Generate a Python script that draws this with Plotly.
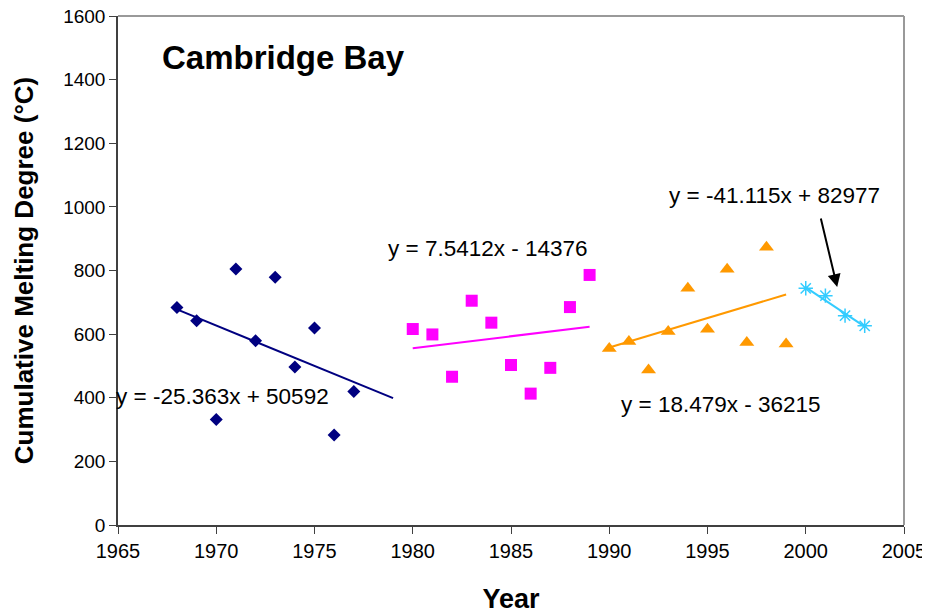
import numpy as np
import plotly.graph_objects as go

# ---- data ----
years_a = [1968, 1969, 1970, 1971, 1972, 1973, 1974, 1975, 1976, 1977]
cmd_a = [684, 642, 332, 805, 579, 779, 497, 619, 283, 420]

years_b = [1980, 1981, 1982, 1983, 1984, 1985, 1986, 1987, 1988, 1989]
cmd_b = [616, 599, 466, 705, 636, 503, 413, 494, 685, 786]

years_c = [1990, 1991, 1992, 1993, 1994, 1995, 1996, 1997, 1998, 1999]
cmd_c = [555, 577, 487, 608, 744, 615, 804, 574, 873, 569]

years_d = [2000, 2001, 2002, 2003]
cmd_d = [744, 721, 658, 626]

# trendline coefficients (as printed) and extents
trend_slopes = [-25.363, 7.5412, 18.479, -41.115]
trend_intercepts = [50592, -14376, -36215, 82977]
trend_x0 = [1968, 1980, 1990, 2000]
trend_x1 = [1979, 1989, 1999, 2003]
trend_labels = ["y = -25.363x + 50592", "y = 7.5412x - 14376",
                "y = 18.479x - 36215", "y = -41.115x + 82977"]

x_ticks = [1965, 1970, 1975, 1980, 1985, 1990, 1995, 2000, 2005]
y_ticks = [0, 200, 400, 600, 800, 1000, 1200, 1400, 1600]

colors = ["#000080", "#FF00FF", "#FF9900", "#33CCFF"]
symbols = ["diamond", "square", "triangle-up", "asterisk-open"]
sizes = [10, 12, 13, 12]

FONT = "Liberation Sans, Arial, sans-serif"

fig = go.Figure()
series = [(years_a, cmd_a), (years_b, cmd_b), (years_c, cmd_c), (years_d, cmd_d)]
for i, (xs, ys) in enumerate(series):
    fig.add_trace(go.Scatter(
        x=xs, y=ys, mode="markers",
        marker=dict(symbol=symbols[i], size=sizes[i], color=colors[i],
                    line=dict(color=colors[i], width=1.5 if i == 3 else 0)),
        showlegend=False, hoverinfo="x+y"))

for i in range(4):
    tx = np.array([trend_x0[i], trend_x1[i]], dtype=float)
    ty = trend_slopes[i] * tx + trend_intercepts[i]
    fig.add_trace(go.Scatter(x=tx, y=ty, mode="lines",
                             line=dict(color=colors[i], width=2),
                             showlegend=False, hoverinfo="skip"))

# equation labels
label_pos = [(1970.3, 405), (1983.85, 868), (1995.7, 380), (1998.4, 1035)]
for (lx, ly), txt in zip(label_pos, trend_labels):
    fig.add_annotation(x=lx, y=ly, text=txt, showarrow=False,
                       xanchor="center", yanchor="middle",
                       font=dict(family=FONT, size=22.5, color="black"))

# arrow pointing to last trendline
fig.add_annotation(x=2001.6, y=748, ax=2000.75, ay=968, xref="x", yref="y",
                   axref="x", ayref="y", text="", showarrow=True,
                   arrowhead=2, arrowsize=1.3, arrowwidth=2, arrowcolor="black")

# station title
fig.add_annotation(x=1973.4, y=1468, text="<b>Cambridge Bay</b>", showarrow=False,
                   xanchor="center", yanchor="middle",
                   font=dict(family=FONT, size=33, color="black"))

# top/right gray frame
fig.add_shape(type="line", xref="paper", yref="paper", x0=0, x1=1, y0=1, y1=1,
              line=dict(color="#999999", width=2), layer="above")
fig.add_shape(type="line", xref="paper", yref="paper", x0=1, x1=1, y0=0, y1=1,
              line=dict(color="#999999", width=2), layer="above")

fig.update_xaxes(range=[1965, 2005], tickvals=x_ticks, ticktext=[str(v) for v in x_ticks],
                 ticks="outside", ticklen=7, tickcolor="#404040", tickwidth=1,
                 showline=True, linecolor="#404040", linewidth=1.5,
                 showgrid=False, zeroline=False, automargin=False,
                 ticklabeloverflow="allow",
                 tickfont=dict(family=FONT, size=20, color="black"),
                 title=dict(text="<b>Year</b>", font=dict(family=FONT, size=27, color="black"),
                            standoff=28))
fig.update_yaxes(range=[0, 1600], tickvals=y_ticks, ticktext=[str(v) for v in y_ticks],
                 ticks="outside", ticklen=7, tickcolor="#404040", tickwidth=1,
                 showline=True, linecolor="#404040", linewidth=1.5,
                 showgrid=False, zeroline=False, automargin=False,
                 ticklabeloverflow="allow",
                 tickfont=dict(family=FONT, size=19, color="black"),
                 title=dict(text="<b>Cumulative Melting Degree (°C)</b>",
                            font=dict(family=FONT, size=26, color="black"),
                            standoff=22))

# page body has an 8px margin; offset margins so the plot area lands where intended
fig.update_layout(width=930, height=613,
                  margin=dict(l=110, r=34, t=8, b=96, autoexpand=False),
                  paper_bgcolor="white", plot_bgcolor="white")

fig.write_html("out.html")
